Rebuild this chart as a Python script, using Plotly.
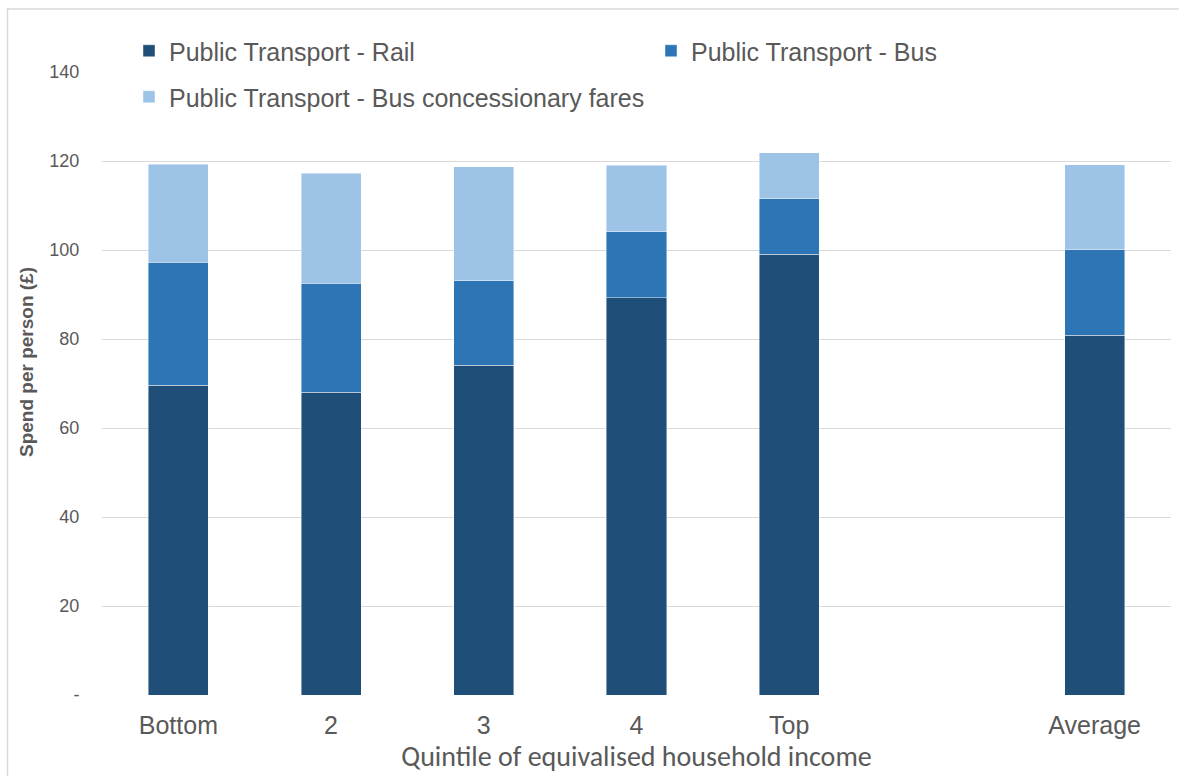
import plotly.graph_objects as go

# Spend per person on public transport, by income quintile (£)
categories = ["Bottom", "2", "3", "4", "Top", "Average"]
axis_order = ["Bottom", "2", "3", "4", "Top", " ", "Average"]
rail = [69.6, 68.0, 74.1, 89.3, 99.0, 80.8]
bus = [27.6, 24.5, 19.0, 14.8, 12.5, 19.3]
concessionary = [22.1, 24.7, 25.6, 14.9, 10.3, 19.1]

y_tickvals = [0, 20, 40, 60, 80, 100, 120, 140]
y_ticktext = ["-", "20", "40", "60", "80", "100", "120", "140"]

series_names = [
    "Public Transport - Rail",
    "Public Transport - Bus",
    "Public Transport - Bus concessionary fares",
]
colors = ["#1F4E79", "#2E75B6", "#9DC3E6"]

W, H = 1179, 776
ML, MR, MT, MB = 102, 8, 72, 81
PW, PH = W - ML - MR, H - MT - MB


def px_x(x):
    return (x - ML) / PW


def px_y(y):
    return (H - MB - y) / PH


GREY = "#595959"
fig = go.Figure()
legend_ids = ["legend", "legend2", "legend3"]
for name, vals, col, lg in zip(series_names, [rail, bus, concessionary], colors, legend_ids):
    fig.add_trace(go.Bar(
        x=categories, y=vals, name=name, legend=lg, showlegend=True,
        marker=dict(color=col, line=dict(color="rgba(255,255,255,0.55)", width=0.8)),
    ))

legend_font = dict(family="Liberation Sans, Arial, sans-serif", size=25, color=GREY)
legend_common = dict(font=legend_font, bgcolor="rgba(0,0,0,0)", xanchor="left",
                     yanchor="middle", itemwidth=30, borderwidth=0)

fig.update_layout(
    width=W, height=H,
    margin=dict(l=ML, r=MR, t=MT, b=MB, pad=0),
    paper_bgcolor="white", plot_bgcolor="white",
    barmode="stack", bargap=0.607,
    showlegend=True,
    legend=dict(x=px_x(129), y=px_y(51), **legend_common),
    legend2=dict(x=px_x(651), y=px_y(51), **legend_common),
    legend3=dict(x=px_x(129), y=px_y(97), **legend_common),
    xaxis=dict(
        type="category", categoryorder="array", categoryarray=axis_order,
        range=[-0.5, 6.5], showgrid=False, zeroline=False, showline=False,
        ticks="outside", ticklen=8, tickcolor="rgba(0,0,0,0)",
        tickfont=dict(family="Liberation Sans, Arial, sans-serif", size=25, color=GREY),
        title=dict(text="Quintile of equivalised household income",
                   font=dict(family="Carlito, Lato, sans-serif", size=28, color=GREY),
                   standoff=0),
    ),
    yaxis=dict(
        range=[0, 140], tickvals=y_tickvals, ticktext=y_ticktext,
        showgrid=True, gridcolor="#D9D9D9", gridwidth=1.3,
        zeroline=False, showline=False,
        ticks="outside", ticklen=18, tickcolor="rgba(0,0,0,0)",
        tickfont=dict(family="Liberation Sans, Arial, sans-serif", size=18, color=GREY),
    ),
    annotations=[dict(
        text="<b>Spend per person (£)</b>", textangle=-90,
        xref="paper", yref="paper", x=px_x(26), y=px_y(362),
        xanchor="center", yanchor="middle", showarrow=False,
        font=dict(family="Liberation Sans, Arial, sans-serif", size=19, color=GREY),
    )],
    shapes=[dict(
        type="rect", xref="paper", yref="paper",
        x0=px_x(7.5), x1=px_x(W + 20), y0=px_y(H + 20), y1=px_y(9),
        line=dict(color="#D9D9D9", width=1.5), fillcolor="rgba(0,0,0,0)", layer="below",
    )],
)

fig.write_html("out.html")
